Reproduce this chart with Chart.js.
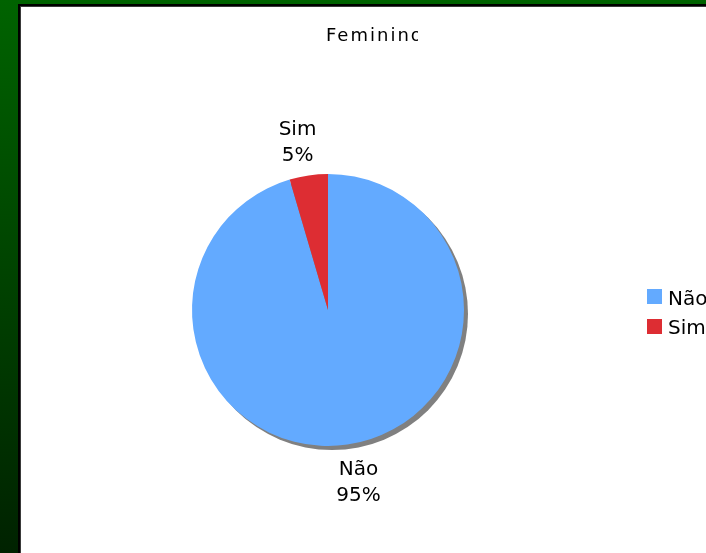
<!DOCTYPE html>
<html><head><meta charset="utf-8">
<script src="https://cdn.jsdelivr.net/npm/chart.js@4/dist/chart.umd.min.js"></script>
<style>
html,body{margin:0;padding:0;width:706px;height:553px;overflow:hidden;background:linear-gradient(to bottom,#006300,#002200);}
#frame{position:absolute;left:18px;top:4px;width:688px;height:549px;background:#000;}
#inner{position:absolute;left:20px;top:6px;width:686px;height:547px;background:#3a3a3a;}
#wrap{position:absolute;left:21px;top:7px;width:685px;height:546px;background:#fff;}
canvas{display:block;}
</style></head><body>
<div id="frame"></div>
<div id="inner"></div>
<div id="wrap"><canvas id="c" width="685" height="546" style="width:685px;height:546px"></canvas></div>
<script>
const title = "Feminino";
const categories = ["Não", "Sim"];
const counts = [21, 1];
const colors = ["#63aaff", "#dd2d33"];

const FONT = '"DejaVu Sans", sans-serif';
const total = counts.reduce((a, b) => a + b, 0);

const deco = {
  id: 'deco',
  beforeDatasetsDraw(chart) {
    const arc = chart.getDatasetMeta(0).data[0];
    const ctx = chart.ctx;
    ctx.save();
    ctx.fillStyle = '#808080';
    ctx.beginPath();
    ctx.arc(arc.x + 4, arc.y + 4, arc.outerRadius, 0, Math.PI * 2);
    ctx.fill();
    ctx.restore();
  },
  afterDraw(chart) {
    const ctx = chart.ctx;
    // title (clipped as in the reference)
    ctx.save();
    ctx.beginPath(); ctx.rect(0, 0, 397, 100); ctx.clip();
    ctx.font = '18px ' + FONT;
    ctx.fillStyle = '#000';
    try { ctx.letterSpacing = '2px'; } catch (e) {}
    ctx.textAlign = 'left';
    ctx.textBaseline = 'alphabetic';
    ctx.fillText(title, 305, 34);
    ctx.restore();

    // data labels
    ctx.save();
    ctx.font = '20px ' + FONT;
    ctx.fillStyle = '#000';
    ctx.textAlign = 'center';
    ctx.textBaseline = 'alphabetic';
    const meta = chart.getDatasetMeta(0);
    meta.data.forEach((arc, i) => {
      const mid = (arc.startAngle + arc.endAngle) / 2;
      const d = arc.outerRadius + 36;
      const cx = Math.cos(mid);
      const x = arc.x + cx * d + Math.sign(cx) * 6;
      const y = arc.y + Math.sin(mid) * d;
      ctx.fillText(categories[i], x, y - 5);
      ctx.fillText(Math.round(counts[i] / total * 100) + '%', x, y + 21);
    });
    ctx.restore();

    // legend
    ctx.save();
    ctx.font = '20px ' + FONT;
    ctx.textAlign = 'left';
    ctx.textBaseline = 'alphabetic';
    categories.forEach((c, i) => {
      ctx.fillStyle = colors[i];
      ctx.fillRect(626, 282 + i * 30, 15, 15);
      ctx.fillStyle = '#000';
      ctx.fillText(c, 647, 298 + i * 29);
    });
    ctx.restore();
  }
};

new Chart(document.getElementById('c'), {
  type: 'pie',
  data: {
    labels: categories,
    datasets: [{
      data: counts,
      backgroundColor: colors,
      borderWidth: 0,
      hoverOffset: 0
    }]
  },
  options: {
    responsive: false,
    animation: false,
    layout: { padding: { left: 171, right: 242, top: 167, bottom: 107 } },
    plugins: {
      legend: { display: false },
      tooltip: { enabled: false },
      title: { display: false }
    }
  },
  plugins: [deco]
});
</script>
</body></html>
